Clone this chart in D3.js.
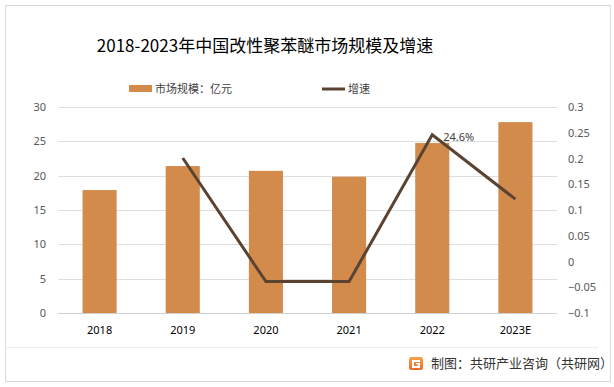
<!DOCTYPE html>
<html>
<head>
<meta charset="utf-8">
<script src="https://cdn.jsdelivr.net/npm/d3@7"></script>
<style>
  body { margin: 0; background: #fff; }
  svg text { font-family: "Microsoft YaHei", "Noto Sans CJK SC", sans-serif; }
</style>
</head>
<body>
<div id="chart"></div>
<script>
// chart values
const years = ["2018", "2019", "2020", "2021", "2022", "2023E"];
const marketSize = [17.9, 21.4, 20.7, 19.85, 24.75, 27.8];   // 亿元
const growth = [null, 0.201, -0.039, -0.039, 0.246, 0.121];
const leftTicks = [0, 5, 10, 15, 20, 25, 30];
const rightTicks = [-0.1, -0.05, 0, 0.05, 0.1, 0.15, 0.2, 0.25, 0.3];

const W = 614, H = 387;
const margin = {top: 107, right: 57, bottom: 74, left: 58};
const width = W - margin.left - margin.right;
const height = H - margin.top - margin.bottom;

const svg = d3.select("#chart").append("svg")
    .attr("width", W)
    .attr("height", H);

// outer frame
svg.append("rect")
    .attr("x", 5.5).attr("y", 5.5)
    .attr("width", 605).attr("height", 376)
    .attr("fill", "none")
    .attr("stroke", "#d9d9d9");

// title
svg.append("text")
    .attr("x", 265).attr("y", 52)
    .attr("text-anchor", "middle")
    .attr("font-size", 17)
    .attr("fill", "#000")
    .text("2018-2023年中国改性聚苯醚市场规模及增速");

// legend
const legend = svg.append("g");
legend.append("rect")
    .attr("x", 129).attr("y", 85)
    .attr("width", 23).attr("height", 7)
    .attr("fill", "#d38b4c");
legend.append("text")
    .attr("x", 155).attr("y", 93)
    .attr("font-size", 11).attr("fill", "#404040")
    .text("市场规模：亿元");
legend.append("line")
    .attr("x1", 322).attr("x2", 345)
    .attr("y1", 89).attr("y2", 89)
    .attr("stroke", "#5b4332").attr("stroke-width", 3);
legend.append("text")
    .attr("x", 348).attr("y", 93)
    .attr("font-size", 11).attr("fill", "#404040")
    .text("增速");

const g = svg.append("g")
    .attr("transform", "translate(" + margin.left + "," + margin.top + ")");

// scales
const x = d3.scaleBand()
    .domain(years)
    .range([0, width])
    .paddingInner(0.59)
    .paddingOuter(0.295);
const xPoint = d => x(d) + x.bandwidth() / 2;
const yLeft = d3.scaleLinear().domain([0, 30]).range([height, 0]);
const yRight = d3.scaleLinear().domain([-0.1, 0.3]).range([height, 0]);

// gridlines
g.selectAll(".grid")
    .data(leftTicks)
    .enter().append("line")
    .attr("x1", 0).attr("x2", width)
    .attr("y1", d => Math.round(yLeft(d)) + 0.5)
    .attr("y2", d => Math.round(yLeft(d)) + 0.5)
    .attr("stroke", d => d === 0 ? "#d0d0d0" : "#dedede");

// left axis
const leftAxis = g.append("g")
    .call(d3.axisLeft(yLeft).tickValues(leftTicks).tickSize(0).tickPadding(12));
leftAxis.select(".domain").remove();
leftAxis.selectAll("text")
    .attr("font-size", 11).attr("fill", "#595959")
    .style("font-family", "'Noto Sans', sans-serif");

// right axis
const rightAxis = g.append("g")
    .attr("transform", "translate(" + width + ",0)")
    .call(d3.axisRight(yRight).tickValues(rightTicks).tickSize(0).tickPadding(11)
        .tickFormat(d => d3.format("")(+d.toFixed(2))));
rightAxis.select(".domain").remove();
rightAxis.selectAll("text")
    .attr("font-size", 11).attr("fill", "#595959")
    .style("font-family", "'Noto Sans', sans-serif");

// bottom axis
const bottomAxis = g.append("g")
    .attr("transform", "translate(0," + height + ")")
    .call(d3.axisBottom(x).tickSize(0).tickPadding(13));
bottomAxis.select(".domain").remove();
bottomAxis.selectAll("text")
    .attr("font-size", 11).attr("fill", "#000")
    .style("font-family", "'Noto Sans', sans-serif");

// bars
g.selectAll(".bar")
    .data(marketSize)
    .enter().append("rect")
    .attr("class", "bar")
    .attr("x", (d, i) => x(years[i]))
    .attr("width", x.bandwidth())
    .attr("y", d => yLeft(d))
    .attr("height", d => height - yLeft(d))
    .attr("fill", "#d38b4c");

// growth line
const lineData = growth.map((v, i) => ({year: years[i], value: v})).filter(d => d.value !== null);
const line = d3.line()
    .x(d => xPoint(d.year))
    .y(d => yRight(d.value));
g.append("path")
    .datum(lineData)
    .attr("d", line)
    .attr("fill", "none")
    .attr("stroke", "#5b4332")
    .attr("stroke-width", 3)
    .attr("stroke-linejoin", "miter");

// label on 2022 point
g.append("text")
    .attr("x", xPoint("2022") + 11)
    .attr("y", yRight(0.246) + 6)
    .attr("font-size", 11).attr("fill", "#404040")
    .style("font-family", "'Noto Sans', sans-serif")
    .text("24.6%");

// footer separator and source
svg.append("line")
    .attr("x1", 5).attr("x2", 598)
    .attr("y1", 347.5).attr("y2", 347.5)
    .attr("stroke", "#ececec");

const logo = svg.append("g").attr("transform", "translate(409,357)");
const grad = svg.append("defs").append("linearGradient")
    .attr("id", "logoGrad").attr("x1", 0).attr("y1", 0).attr("x2", 0).attr("y2", 1);
grad.append("stop").attr("offset", 0).attr("stop-color", "#f7a24a");
grad.append("stop").attr("offset", 1).attr("stop-color", "#ec6a2c");
logo.append("rect")
    .attr("width", 14).attr("height", 13).attr("rx", 2)
    .attr("fill", "url(#logoGrad)");
logo.append("path")
    .attr("d", "M3,3 H11 V5 H5 V9 H9 V7.5 H7 V6 H11 V11 H3 Z")
    .attr("fill", "#fff");

svg.append("text")
    .attr("x", 431).attr("y", 368)
    .attr("font-size", 13).attr("fill", "#333")
    .text("制图：共研产业咨询（共研网）");
</script>
</body>
</html>
